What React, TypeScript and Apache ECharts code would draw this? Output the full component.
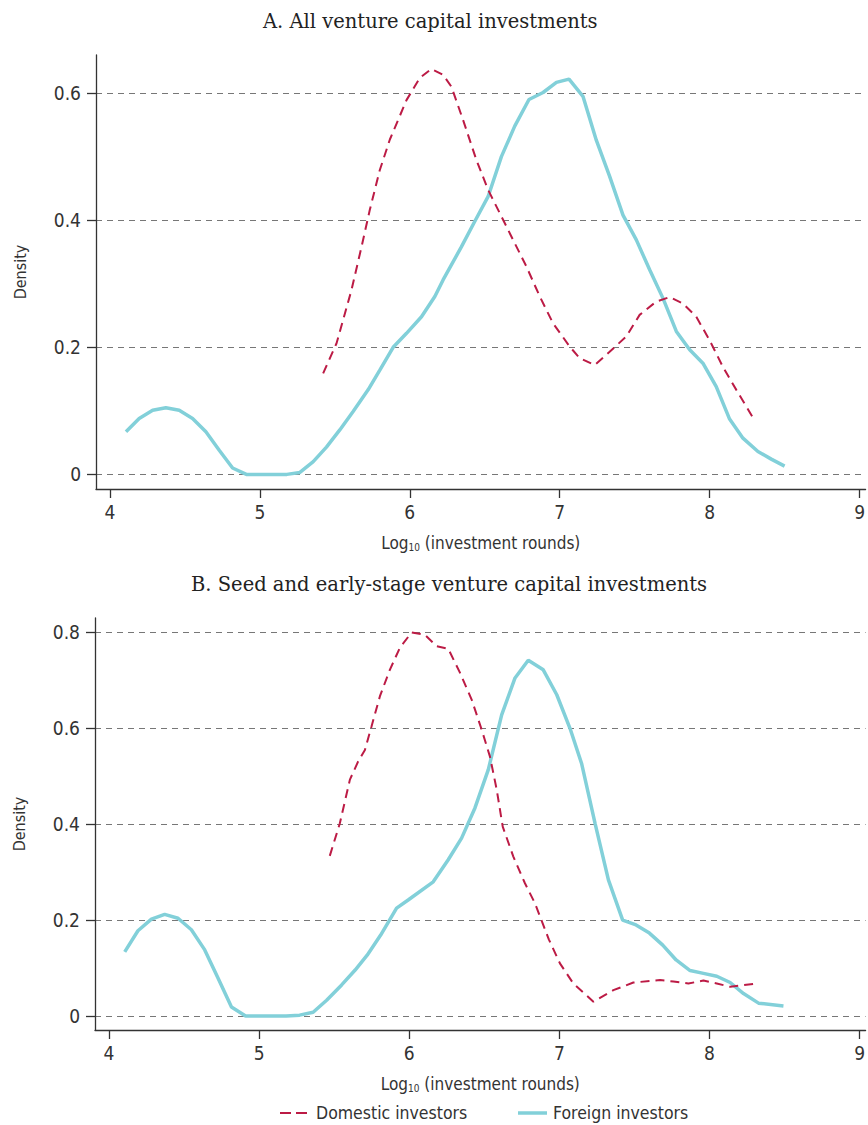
import React, { useEffect, useRef } from "react";
import * as echarts from "echarts";

// Panel A: all venture capital investments
const topForeignX = [4.107, 4.195, 4.285, 4.373, 4.462, 4.551, 4.64, 4.729, 4.818, 4.91, 5.0, 5.09, 5.18, 5.267, 5.356, 5.444, 5.533, 5.622, 5.722, 5.8, 5.889, 5.978, 6.078, 6.167, 6.222, 6.344, 6.433, 6.522, 6.611, 6.7, 6.795, 6.889, 6.978, 7.062, 7.155, 7.244, 7.333, 7.422, 7.511, 7.6, 7.689, 7.778, 7.867, 7.955, 8.044, 8.133, 8.222, 8.322, 8.411, 8.5];
const topForeignY = [0.067, 0.088, 0.101, 0.105, 0.101, 0.088, 0.067, 0.038, 0.01, 0.0, 0.0, 0.0, 0.0, 0.003, 0.02, 0.043, 0.07, 0.099, 0.133, 0.164, 0.2, 0.222, 0.248, 0.28, 0.306, 0.358, 0.398, 0.437, 0.5, 0.548, 0.59, 0.601, 0.617, 0.622, 0.595, 0.526, 0.469, 0.408, 0.369, 0.322, 0.277, 0.225, 0.196, 0.175, 0.138, 0.087, 0.057, 0.036, 0.024, 0.013];
const topDomesticX = [5.422, 5.511, 5.611, 5.678, 5.733, 5.8, 5.867, 5.978, 6.067, 6.144, 6.222, 6.278, 6.355, 6.444, 6.522, 6.611, 6.689, 6.778, 6.867, 6.955, 7.067, 7.133, 7.233, 7.333, 7.444, 7.533, 7.644, 7.733, 7.822, 7.911, 8.0, 8.089, 8.178, 8.3];
const topDomesticY = [0.159, 0.206, 0.29, 0.358, 0.416, 0.479, 0.527, 0.589, 0.624, 0.638, 0.629, 0.61, 0.558, 0.495, 0.448, 0.406, 0.369, 0.327, 0.28, 0.238, 0.201, 0.183, 0.172, 0.193, 0.217, 0.251, 0.272, 0.279, 0.269, 0.248, 0.211, 0.169, 0.133, 0.085];

// Panel B: seed and early-stage venture capital investments
const botForeignX = [4.105, 4.193, 4.283, 4.371, 4.46, 4.549, 4.638, 4.727, 4.816, 4.91, 5.0, 5.09, 5.18, 5.27, 5.36, 5.45, 5.55, 5.64, 5.72, 5.81, 5.916, 5.993, 6.16, 6.26, 6.349, 6.438, 6.527, 6.616, 6.705, 6.793, 6.893, 6.983, 7.071, 7.149, 7.238, 7.327, 7.422, 7.511, 7.6, 7.689, 7.778, 7.871, 7.96, 8.049, 8.138, 8.227, 8.327, 8.493];
const botForeignY = [0.134, 0.178, 0.202, 0.212, 0.204, 0.18, 0.138, 0.079, 0.019, 0, 0, 0, 0, 0.002, 0.008, 0.033, 0.065, 0.096, 0.127, 0.169, 0.225, 0.242, 0.28, 0.326, 0.371, 0.434, 0.514, 0.628, 0.705, 0.742, 0.722, 0.67, 0.6, 0.526, 0.402, 0.284, 0.2, 0.19, 0.173, 0.148, 0.117, 0.095, 0.089, 0.083, 0.07, 0.047, 0.027, 0.021];
const botDomesticX = [5.471, 5.538, 5.605, 5.66, 5.705, 5.749, 5.805, 5.871, 5.938, 6.016, 6.105, 6.183, 6.26, 6.338, 6.416, 6.483, 6.538, 6.583, 6.623, 6.693, 6.771, 6.838, 6.93, 7.004, 7.093, 7.227, 7.36, 7.493, 7.671, 7.76, 7.86, 7.96, 8.049, 8.138, 8.293];
const botDomesticY = [0.334, 0.402, 0.493, 0.531, 0.555, 0.604, 0.667, 0.722, 0.768, 0.8, 0.795, 0.771, 0.766, 0.716, 0.66, 0.597, 0.541, 0.472, 0.395, 0.333, 0.277, 0.235, 0.16, 0.11, 0.068, 0.03, 0.054, 0.07, 0.075, 0.072, 0.068, 0.074, 0.068, 0.061, 0.067];

const xTicks = [4, 5, 6, 7, 8, 9];
const topYTicks = [0, 0.2, 0.4, 0.6];
const botYTicks = [0, 0.2, 0.4, 0.6, 0.8];

const titleA = "A. All venture capital investments";
const titleB = "B. Seed and early-stage venture capital investments";
const seriesNames = ["Domestic investors", "Foreign investors"];

const RED = "#BC1B45";
const CYAN = "#82D0D9";
const NARROW = "'Liberation Sans Narrow', 'DejaVu Sans Condensed', 'Roboto', sans-serif";
const SLAB = "'DejaVu Serif', 'Liberation Serif', serif";

const zip = (xs: number[], ys: number[]) => xs.map((x, i) => [x, ys[i]]);

const fmtY = (v: number) => (v === 0 ? "0" : v.toFixed(1));

function makeXAxis(gridIndex: number) {
  return {
    type: "value",
    gridIndex,
    min: 3.907,
    max: 9.04,
    name: "Log{sub|10} (investment rounds)",
    nameLocation: "middle",
    nameGap: 44,
    nameTextStyle: {
      fontFamily: NARROW,
      fontSize: 17,
      color: "#333",
      rich: {
        sub: { fontFamily: NARROW, fontSize: 10, color: "#333", padding: [9, 0, 0, 0] },
      },
    },
    axisLine: { show: true, onZero: false, lineStyle: { color: "#333", width: 1.3 } },
    axisTick: { show: true, length: 9, customValues: xTicks, lineStyle: { color: "#333", width: 1.3 } },
    axisLabel: { customValues: xTicks, margin: 13, fontFamily: NARROW, fontSize: 19, color: "#333" },
    splitLine: { show: false },
  };
}

function makeYAxis(gridIndex: number, min: number, max: number, ticks: number[]) {
  return {
    type: "value",
    gridIndex,
    min,
    max,
    name: "Density",
    nameLocation: "middle",
    nameGap: 68,
    nameTextStyle: { fontFamily: NARROW, fontSize: 16, color: "#333" },
    axisLine: { show: true, onZero: false, lineStyle: { color: "#333", width: 1.3 } },
    axisTick: { show: true, length: 9, customValues: ticks, lineStyle: { color: "#333", width: 1.3 } },
    axisLabel: { customValues: ticks, margin: 15, fontFamily: NARROW, fontSize: 19, color: "#333", formatter: fmtY },
    splitLine: { show: true, lineStyle: { color: "#777", width: 1, type: [6, 5] } },
  };
}

function lineSeries(name: string, xi: number, data: number[][], dashed: boolean) {
  return {
    type: "line",
    name,
    xAxisIndex: xi,
    yAxisIndex: xi,
    data,
    symbol: "none",
    showSymbol: false,
    smooth: false,
    lineStyle: dashed
      ? { color: RED, width: 2, type: [9, 6] }
      : { color: CYAN, width: 3.5, type: "solid" },
    itemStyle: { color: dashed ? RED : CYAN },
    z: dashed ? 3 : 2,
  };
}

export default function App() {
  const ref = useRef<HTMLDivElement>(null);
  useEffect(() => {
    if (!ref.current) return;
    const chart = echarts.init(ref.current, undefined, { renderer: "svg" });
    const legendY = 1113;
    chart.setOption({
      animation: false,
      backgroundColor: "#fff",
      title: [
        { text: titleA, left: 258, top: 6, textStyle: { fontFamily: SLAB, fontSize: 19.5, fontWeight: "normal", color: "#222" } },
        { text: titleB, left: 186, top: 569, textStyle: { fontFamily: SLAB, fontSize: 19.5, fontWeight: "normal", color: "#222" } },
      ],
      grid: [
        { left: 96, width: 770, top: 55, height: 434 },
        { left: 95, width: 771, top: 618, height: 412 },
      ],
      xAxis: [makeXAxis(0), makeXAxis(1)],
      yAxis: [makeYAxis(0, -0.023, 0.66, topYTicks), makeYAxis(1, -0.029, 0.83, botYTicks)],
      graphic: [
        {
          type: "line",
          shape: { x1: 280, y1: legendY, x2: 307, y2: legendY },
          style: { stroke: RED, lineWidth: 2, lineDash: [11, 5] },
        },
        {
          type: "text",
          x: 316,
          y: legendY,
          style: { text: seriesNames[0], fontFamily: NARROW, fontSize: 17.5, fill: "#333", verticalAlign: "middle" },
        },
        {
          type: "line",
          shape: { x1: 518, y1: legendY, x2: 547, y2: legendY },
          style: { stroke: CYAN, lineWidth: 3.5 },
        },
        {
          type: "text",
          x: 553,
          y: legendY,
          style: { text: seriesNames[1], fontFamily: NARROW, fontSize: 17.5, fill: "#333", verticalAlign: "middle" },
        },
      ],
      series: [
        lineSeries(seriesNames[1], 0, zip(topForeignX, topForeignY), false),
        lineSeries(seriesNames[0], 0, zip(topDomesticX, topDomesticY), true),
        lineSeries(seriesNames[1], 1, zip(botForeignX, botForeignY), false),
        lineSeries(seriesNames[0], 1, zip(botDomesticX, botDomesticY), true),
      ],
    });
    return () => chart.dispose();
  }, []);
  return (
    <div
      ref={ref}
      style={{ position: "fixed", left: 0, top: 0, width: 868, height: 1125, background: "#fff" }}
    />
  );
}
